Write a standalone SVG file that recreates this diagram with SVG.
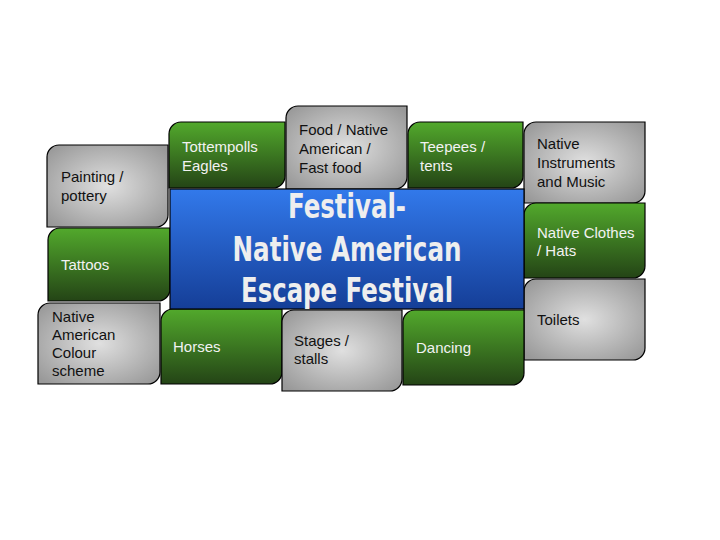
<svg xmlns="http://www.w3.org/2000/svg" width="720" height="540" viewBox="0 0 720 540">
<defs>
<radialGradient id="gGray" cx="50%" cy="50%" r="65%">
<stop offset="0" stop-color="#e0e0e0"/>
<stop offset="1" stop-color="#999999"/>
</radialGradient>
<linearGradient id="gGreen" x1="0" y1="0" x2="0" y2="1">
<stop offset="0" stop-color="#52a92c"/>
<stop offset="1" stop-color="#244416"/>
</linearGradient>
<linearGradient id="gBlue" x1="0" y1="0" x2="0" y2="1">
<stop offset="0" stop-color="#3279eb"/>
<stop offset="1" stop-color="#153e97"/>
</linearGradient>
</defs>
<style>
.box{stroke:#000;stroke-width:1.2}
.gray{fill:url(#gGray)}
.green{fill:url(#gGreen)}
.t{font-family:"Liberation Sans",Arial,sans-serif;font-size:15px}
.dk{fill:#111}
.lt{fill:#f2f2f2}
.title{font-family:"DejaVu Sans Condensed","DejaVu Sans",sans-serif;font-stretch:condensed;font-weight:bold;font-size:34px;fill:#eeeeee;text-anchor:middle}
</style>
<rect width="720" height="540" fill="#ffffff"/>
<g id="connectors"></g>
<g id="painting">
<path class="box gray" d="M59 145 H168 V215 A12 12 0 0 1 156 227 H47 V157 A12 12 0 0 1 59 145 Z"/>
<text class="t dk" x="61" y="182">Painting /</text>
<text class="t dk" x="61" y="201">pottery</text>
</g>
<g id="tottempolls">
<path class="box green" d="M181 122 H285 V176 A12 12 0 0 1 273 188 H169 V134 A12 12 0 0 1 181 122 Z"/>
<text class="t lt" x="182" y="152">Tottempolls</text>
<text class="t lt" x="182" y="171">Eagles</text>
</g>
<g id="food">
<path class="box gray" d="M298 106 H407 V177 A12 12 0 0 1 395 189 H286 V118 A12 12 0 0 1 298 106 Z"/>
<text class="t dk" x="299" y="135">Food / Native</text>
<text class="t dk" x="299" y="154">American /</text>
<text class="t dk" x="299" y="173">Fast food</text>
</g>
<g id="teepees">
<path class="box green" d="M420 122 H523 V176 A12 12 0 0 1 511 188 H408 V134 A12 12 0 0 1 420 122 Z"/>
<text class="t lt" x="420" y="152">Teepees /</text>
<text class="t lt" x="420" y="171">tents</text>
</g>
<g id="instruments">
<path class="box gray" d="M536 122 H645 V191 A12 12 0 0 1 633 203 H524 V134 A12 12 0 0 1 536 122 Z"/>
<text class="t dk" x="537" y="149">Native</text>
<text class="t dk" x="537" y="168">Instruments</text>
<text class="t dk" x="537" y="187">and Music</text>
</g>
<g id="clothes">
<path class="box green" d="M536 203 H645 V266 A12 12 0 0 1 633 278 H524 V215 A12 12 0 0 1 536 203 Z"/>
<text class="t lt" x="537" y="238">Native Clothes</text>
<text class="t lt" x="537" y="256">/ Hats</text>
</g>
<g id="toilets">
<path class="box gray" d="M536 279 H645 V348 A12 12 0 0 1 633 360 H524 V291 A12 12 0 0 1 536 279 Z"/>
<text class="t dk" x="537" y="325">Toilets</text>
</g>
<g id="tattoos">
<path class="box green" d="M60 228 H170 V289 A12 12 0 0 1 158 301 H48 V240 A12 12 0 0 1 60 228 Z"/>
<text class="t lt" x="61" y="270">Tattoos</text>
</g>
<g id="colour">
<path class="box gray" d="M50 303 H160 V372 A12 12 0 0 1 148 384 H38 V315 A12 12 0 0 1 50 303 Z"/>
<text class="t dk" x="52" y="322">Native</text>
<text class="t dk" x="52" y="340">American</text>
<text class="t dk" x="52" y="358">Colour</text>
<text class="t dk" x="52" y="376">scheme</text>
</g>
<g id="horses">
<path class="box green" d="M173 309 H282 V372 A12 12 0 0 1 270 384 H161 V321 A12 12 0 0 1 173 309 Z"/>
<text class="t lt" x="173" y="352">Horses</text>
</g>
<g id="stages">
<path class="box gray" d="M294 310 H402 V379 A12 12 0 0 1 390 391 H282 V322 A12 12 0 0 1 294 310 Z"/>
<text class="t dk" x="294" y="346">Stages /</text>
<text class="t dk" x="294" y="364">stalls</text>
</g>
<g id="dancing">
<path class="box green" d="M415 310 H524 V373 A12 12 0 0 1 512 385 H403 V322 A12 12 0 0 1 415 310 Z"/>
<text class="t lt" x="416" y="353">Dancing</text>
</g>
<g id="central">
<rect class="box" x="170" y="189" width="354" height="120" fill="url(#gBlue)"/>
<text class="title" x="347" y="218" textLength="118" lengthAdjust="spacingAndGlyphs">Festival-</text>
<text class="title" x="347" y="261" textLength="229" lengthAdjust="spacingAndGlyphs">Native American</text>
<text class="title" x="347" y="302" textLength="212" lengthAdjust="spacingAndGlyphs">Escape Festival</text>
</g>
</svg>
